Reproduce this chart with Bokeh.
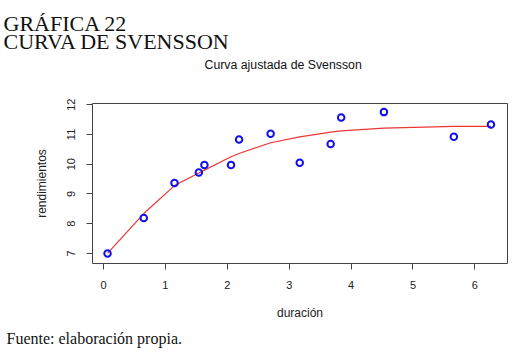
from bokeh.plotting import figure
from bokeh.models import Range1d, FixedTicker, ColumnDataSource, Title
from bokeh.embed import file_html
from bokeh.resources import INLINE

# Data
duracion = [0.065, 0.65, 1.147, 1.54, 1.63, 2.06, 2.19, 2.70, 3.17, 3.67, 3.84, 4.53, 5.66, 6.26]
rendimientos = [7.00, 8.19, 9.37, 9.72, 9.97, 9.97, 10.83, 11.02, 10.05, 10.68, 11.57, 11.75, 10.92, 11.33]
ajuste = [7.00, 8.34, 9.28, 9.70, 9.80, 10.25, 10.36, 10.72, 10.92, 11.08, 11.12, 11.21, 11.27, 11.27]
x_ticks = [0, 1, 2, 3, 4, 5, 6]
y_ticks = [7, 8, 9, 10, 11, 12]
titulo1 = "GRÁFICA 22"
titulo2 = "CURVA DE SVENSSON"
subtitulo = "Curva ajustada de Svensson"
fuente = "Fuente: elaboración propia."

SANS = "Liberation Sans"
SERIF = "Liberation Serif"
TXT = "#222222"

p = figure(width=522, height=353, output_backend="svg", toolbar_location=None,
           title=None,
           x_range=Range1d(-0.178, 6.527), y_range=Range1d(6.66, 12.04),
           min_border_left=92, min_border_right=15, min_border_top=103, min_border_bottom=90)
p.background_fill_color = "white"
p.border_fill_color = "white"
p.outline_line_color = "#444444"
p.outline_line_width = 1
p.xgrid.visible = False
p.ygrid.visible = False

for ax in (p.xaxis[0], p.yaxis[0]):
    ax.axis_line_color = None
    ax.major_tick_out = 6
    ax.major_tick_in = 0
    ax.major_tick_line_color = "#444444"
    ax.minor_tick_line_color = None
    ax.major_label_text_font = SANS
    ax.major_label_text_font_size = "11px"
    ax.major_label_text_color = TXT
    ax.axis_label_text_font = SANS
    ax.axis_label_text_font_size = "12px"
    ax.axis_label_text_font_style = "normal"
    ax.axis_label_text_color = TXT

p.xaxis[0].ticker = FixedTicker(ticks=x_ticks)
p.yaxis[0].ticker = FixedTicker(ticks=y_ticks)
p.yaxis[0].major_label_orientation = "vertical"
p.xaxis[0].axis_label = "duración"
p.yaxis[0].axis_label = "rendimientos"
p.xaxis[0].major_label_standoff = 11
p.yaxis[0].major_label_standoff = 11
p.xaxis[0].axis_label_standoff = 14
p.yaxis[0].axis_label_standoff = 16

src = ColumnDataSource(dict(x=duracion, y=rendimientos, fit=ajuste))
p.line("x", "fit", source=src, line_color="#ee3535", line_width=1.2)
p.scatter("x", "y", source=src, size=6.5, fill_color=None,
          line_color="#1010ee", line_width=2)


def title(text, font, size, offset, standoff, side="above"):
    p.add_layout(Title(text=text, align="left", offset=offset, standoff=standoff,
                       text_font=font, text_font_size=size, text_font_style="normal",
                       text_color="#111111"), side)


# Titles (first added "above" sits nearest the frame)
title(" ", SANS, "12px", 0, 5.6)          # spacer between frame and subtitle
title(subtitulo, SANS, "12.3px", 112, 18.5)
title(titulo2, SERIF, "22px", -89, -15.9)
title(titulo1, SERIF, "22px", -89, 0)
title(fuente, SERIF, "16px", -86, 11, "below")

open("out.html", "w").write(file_html(p, INLINE))
